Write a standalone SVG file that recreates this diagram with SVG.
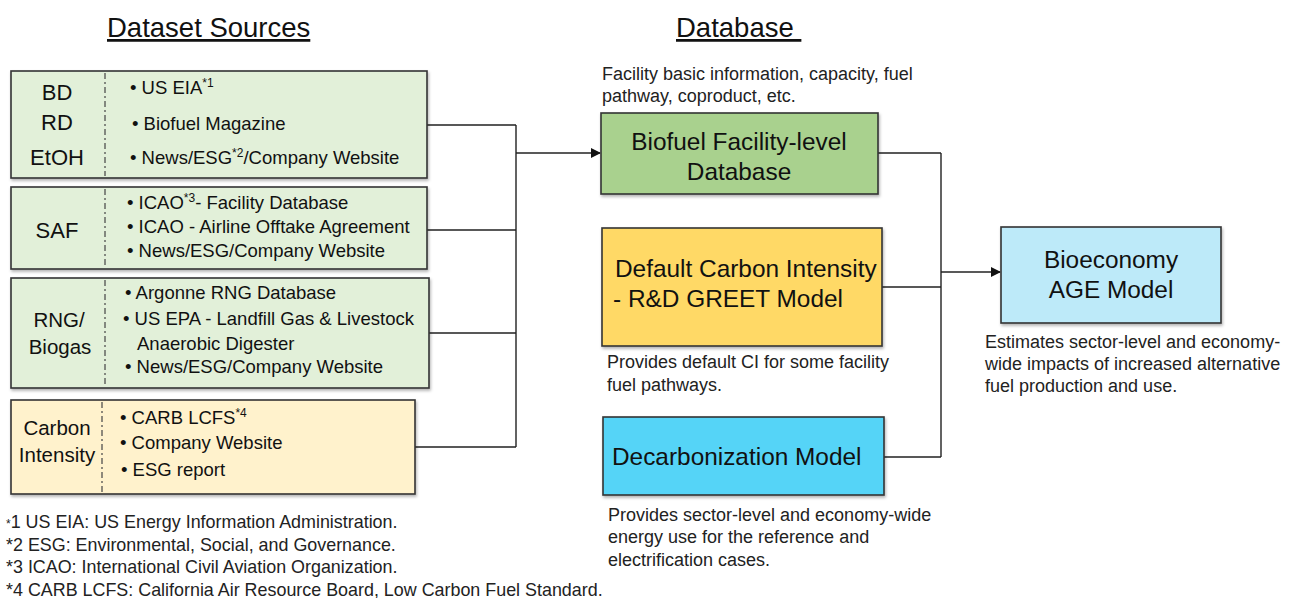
<svg xmlns="http://www.w3.org/2000/svg" width="1293" height="598" viewBox="0 0 1293 598">
<style>
text{font-family:"Liberation Sans",Arial,sans-serif;fill:#111}
.title{font-size:27.5px;text-decoration:underline}
.lbl{font-size:20.5px;text-anchor:middle}
.lbl1{font-size:22px;text-anchor:middle}
.bul{font-size:18.5px}
.cap{font-size:18px;fill:#222}
.fn{font-size:17.9px;fill:#222}
.big{font-size:24.4px}
.box{stroke:#333;stroke-width:1.6}
.div{stroke:#444;stroke-width:1.2;stroke-dasharray:6,3,2,3}
.con{fill:none;stroke:#222;stroke-width:1.4}
</style>
<defs>
<filter id="sh" x="-5%" y="-5%" width="110%" height="115%"><feDropShadow dx="1" dy="2" stdDeviation="1.5" flood-color="#000" flood-opacity="0.3"/></filter>
<marker id="ar" markerWidth="10" markerHeight="10" refX="9" refY="5" orient="auto" markerUnits="userSpaceOnUse"><path d="M0,0 L10,5 L0,10 z" fill="#111"/></marker>
</defs>
<rect width="1293" height="598" fill="#fff"/>
<text class="title" x="107" y="37">Dataset Sources</text>
<text class="title" x="676" y="37" xml:space="preserve">Database </text>

<g id="connectors">
<path class="con" d="M427,125 H516 M427,230 H516 M429,333 H516 M415,447 H516 M516,125 V447"/>
<path class="con" d="M516,153 H600" marker-end="url(#ar)"/>
<path class="con" d="M878,153 H941 M882,287 H941 M884,457 H941 M941,153 V457"/>
<path class="con" d="M941,272 H1000" marker-end="url(#ar)"/>
</g>

<g id="src-bd">
<rect class="box" x="11" y="71" width="416" height="107" fill="#e2f0d9" filter="url(#sh)"/>
<line class="div" x1="105" y1="73" x2="105" y2="176"/>
<text class="lbl1" x="57" y="100">BD</text>
<text class="lbl1" x="57" y="130">RD</text>
<text class="lbl1" x="57" y="165">EtOH</text>
<text class="bul" x="130" y="94">• US EIA<tspan font-size="12" dy="-7">*1</tspan></text>
<text class="bul" x="132" y="130">• Biofuel Magazine</text>
<text class="bul" x="130" y="164">• News/ESG<tspan font-size="12" dy="-7">*2</tspan><tspan dy="7">/Company Website</tspan></text>
</g>

<g id="src-saf">
<rect class="box" x="11" y="187" width="416" height="82" fill="#e2f0d9" filter="url(#sh)"/>
<line class="div" x1="105" y1="189" x2="105" y2="267"/>
<text class="lbl1" x="57" y="238">SAF</text>
<text class="bul" x="127" y="209">• ICAO<tspan font-size="12" dy="-7">*3</tspan><tspan dy="7">- Facility Database</tspan></text>
<text class="bul" x="127" y="233">• ICAO - Airline Offtake Agreement</text>
<text class="bul" x="127" y="257">• News/ESG/Company Website</text>
</g>

<g id="src-rng">
<rect class="box" x="11" y="278" width="418" height="110" fill="#e2f0d9" filter="url(#sh)"/>
<line class="div" x1="105" y1="280" x2="105" y2="386"/>
<text class="lbl" x="59" y="327">RNG/</text>
<text class="lbl" x="60" y="354">Biogas</text>
<text class="bul" x="125" y="299">• Argonne RNG Database</text>
<text class="bul" x="123" y="325">• US EPA - Landfill Gas &amp; Livestock</text>
<text class="bul" x="137" y="350">Anaerobic Digester</text>
<text class="bul" x="125" y="373">• News/ESG/Company Website</text>
</g>

<g id="src-ci">
<rect class="box" x="11" y="400" width="404" height="94" fill="#fff2cc" filter="url(#sh)"/>
<line class="div" x1="102" y1="402" x2="102" y2="492"/>
<text class="lbl" x="57" y="435">Carbon</text>
<text class="lbl" x="57" y="462">Intensity</text>
<text class="bul" x="120" y="424">• CARB LCFS<tspan font-size="12" dy="-7">*4</tspan></text>
<text class="bul" x="120" y="449">• Company Website</text>
<text class="bul" x="121" y="476">• ESG report</text>
</g>

<g id="biofuel-db">
<text class="cap" x="602" y="80">Facility basic information, capacity, fuel</text>
<text class="cap" x="602" y="102">pathway, coproduct, etc.</text>
<rect class="box" x="601" y="113" width="277" height="81" fill="#a9d18e" filter="url(#sh)"/>
<text class="big" x="739" y="150" text-anchor="middle">Biofuel Facility-level</text>
<text class="big" x="739" y="180" text-anchor="middle">Database</text>
</g>

<g id="greet">
<rect class="box" x="602" y="228" width="280" height="118" fill="#ffd966" filter="url(#sh)"/>
<text class="big" x="615" y="277">Default Carbon Intensity</text>
<text class="big" x="613" y="307">- R&amp;D GREET Model</text>
<text class="cap" x="607" y="368">Provides default CI for some facility</text>
<text class="cap" x="607" y="391">fuel pathways.</text>
</g>

<g id="decarb">
<rect class="box" x="603" y="417" width="281" height="78" fill="#55d4f7" filter="url(#sh)"/>
<text class="big" x="612" y="465">Decarbonization Model</text>
<text class="cap" x="608" y="521">Provides sector-level and economy-wide</text>
<text class="cap" x="608" y="543">energy use for the reference and</text>
<text class="cap" x="608" y="566">electrification cases.</text>
</g>

<g id="age">
<rect class="box" x="1001" y="227" width="220" height="96" fill="#bdeaf9" filter="url(#sh)"/>
<text class="big" x="1111" y="268" text-anchor="middle">Bioeconomy</text>
<text class="big" x="1111" y="298" text-anchor="middle">AGE Model</text>
<text class="cap" x="985" y="348">Estimates sector-level and economy-</text>
<text class="cap" x="985" y="370">wide impacts of increased alternative</text>
<text class="cap" x="985" y="392">fuel production and use.</text>
</g>

<g id="footnotes">
<text class="fn" x="6" y="528"><tspan font-size="12">*</tspan>1 US EIA: US Energy Information Administration.</text>
<text class="fn" x="6" y="551">*2 ESG: Environmental, Social, and Governance.</text>
<text class="fn" x="6" y="573">*3 ICAO: International Civil Aviation Organization.</text>
<text class="fn" x="6" y="596">*4 CARB LCFS: California Air Resource Board, Low Carbon Fuel Standard.</text>
</g>
</svg>
